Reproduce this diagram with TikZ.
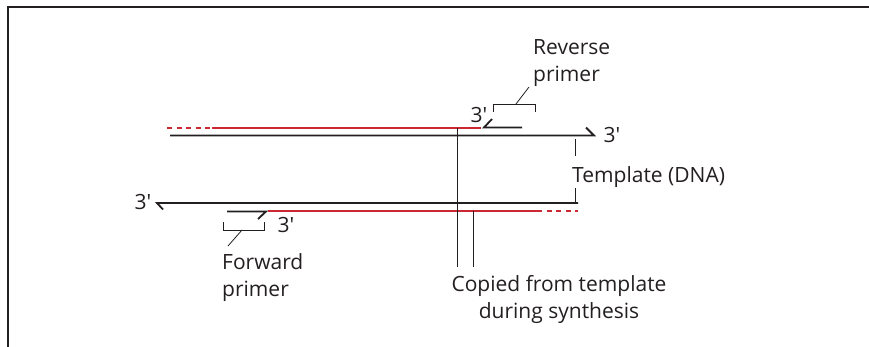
\documentclass[tikz,border=0pt]{standalone}
\usepackage{fontspec}
\setmainfont{Open Sans}
\newfontfamily\lblfont{Open Sans}
\definecolor{dnared}{RGB}{204,40,52}
\definecolor{ink}{RGB}{35,31,32}
\newcommand{\tp}{3'}
\begin{document}
\begin{tikzpicture}[x=1pt,y=-1pt,
  strand/.style={draw=ink,line width=1.8pt},
  redstrand/.style={draw=dnared,line width=1.8pt},
  reddash/.style={draw=dnared,line width=1.8pt,dash pattern=on 5pt off 4.5pt},
  thin/.style={draw=ink,line width=0.8pt},
  lbl/.style={inner sep=0pt,font=\lblfont\fontsize{21}{27}\selectfont,text=ink},
]
\useasboundingbox (0,0) rectangle (869,347);
% frame
\draw[draw=ink,line width=2.5pt] (8,347) -- (8,7) -- (869,7);

% coordinates
\coordinate (t1a) at (170,135.5); \coordinate (t1b) at (594,135.5); \coordinate (t1t) at (586,127.5);
\coordinate (r1d) at (167,128); \coordinate (r1a) at (212,128); \coordinate (r1b) at (481,128);
\coordinate (rpa) at (484,127.5); \coordinate (rpb) at (522,127.5); \coordinate (rpt) at (492,119);
\coordinate (t2a) at (157,203); \coordinate (t2b) at (578,203); \coordinate (t2t) at (163,209.5);
\coordinate (r2a) at (268,211); \coordinate (r2b) at (537,211); \coordinate (r2d) at (578,211);
\coordinate (fpa) at (227,211.5); \coordinate (fpb) at (266,211.5); \coordinate (fpt) at (258,219);

% top template strand
\draw[strand] (t1a) -- (t1b) -- (t1t);
% top copied strand (red)
\draw[reddash] (r1d) -- (r1a);
\draw[redstrand] (r1a) -- (r1b);
% reverse primer
\draw[strand] (rpt) -- (rpa) -- (rpb);

% bottom template strand
\draw[strand] (t2t) -- (t2a) -- (t2b);
% bottom copied strand (red)
\draw[redstrand] (r2a) -- (r2b);
\draw[reddash] (r2b) -- (r2d);
% forward primer
\draw[strand] (fpa) -- (fpb) -- (fpt);

% 3' labels
\node[lbl] (p1) at (479,115) {\tp};
\node[lbl] (p2) at (612,135) {\tp};
\node[lbl] (p3) at (143,202) {\tp};
\node[lbl] (p4) at (286,225) {\tp};

% reverse primer bracket
\node[lbl,anchor=base west,align=left] (rev) at (533,82) {Reverse\\primer};
\coordinate (rb1) at (493,112); \coordinate (rb2) at (493,104);
\coordinate (rb3) at (535,104); \coordinate (rb4) at (535,112);
\coordinate (rbm) at (516,104); \coordinate (rbl) at (529,87);
\draw[thin] (rb1) -- (rb2) -- (rb3) -- (rb4);
\draw[thin] (rbm) -- (rbl);

% forward primer bracket
\node[lbl,anchor=base west,align=left] (fwd) at (222,296) {Forward\\primer};
\coordinate (fb1) at (223,222); \coordinate (fb2) at (223,230);
\coordinate (fb3) at (264,230); \coordinate (fb4) at (264,222);
\coordinate (fbm) at (242,230); \coordinate (fbl) at (228,246);
\draw[thin] (fb1) -- (fb2) -- (fb3) -- (fb4);
\draw[thin] (fbm) -- (fbl);

% template label
\node[lbl,anchor=base west] (tmpl) at (572,183) {Template (DNA)};
\coordinate (tv1) at (575,139); \coordinate (tv2) at (575,156);
\coordinate (tv3) at (575,188); \coordinate (tv4) at (575,203);
\draw[thin] (tv1) -- (tv2);
\draw[thin] (tv3) -- (tv4);

% copied label
\node[lbl,anchor=base,align=center] (copy) at (559,318) {Copied from template\\during synthesis};
\coordinate (cv1) at (457,128); \coordinate (cv2) at (457,267);
\coordinate (cv3) at (473,211); \coordinate (cv4) at (473,267);
\draw[thin] (cv1) -- (cv2);
\draw[thin] (cv3) -- (cv4);
\end{tikzpicture}
\end{document}
